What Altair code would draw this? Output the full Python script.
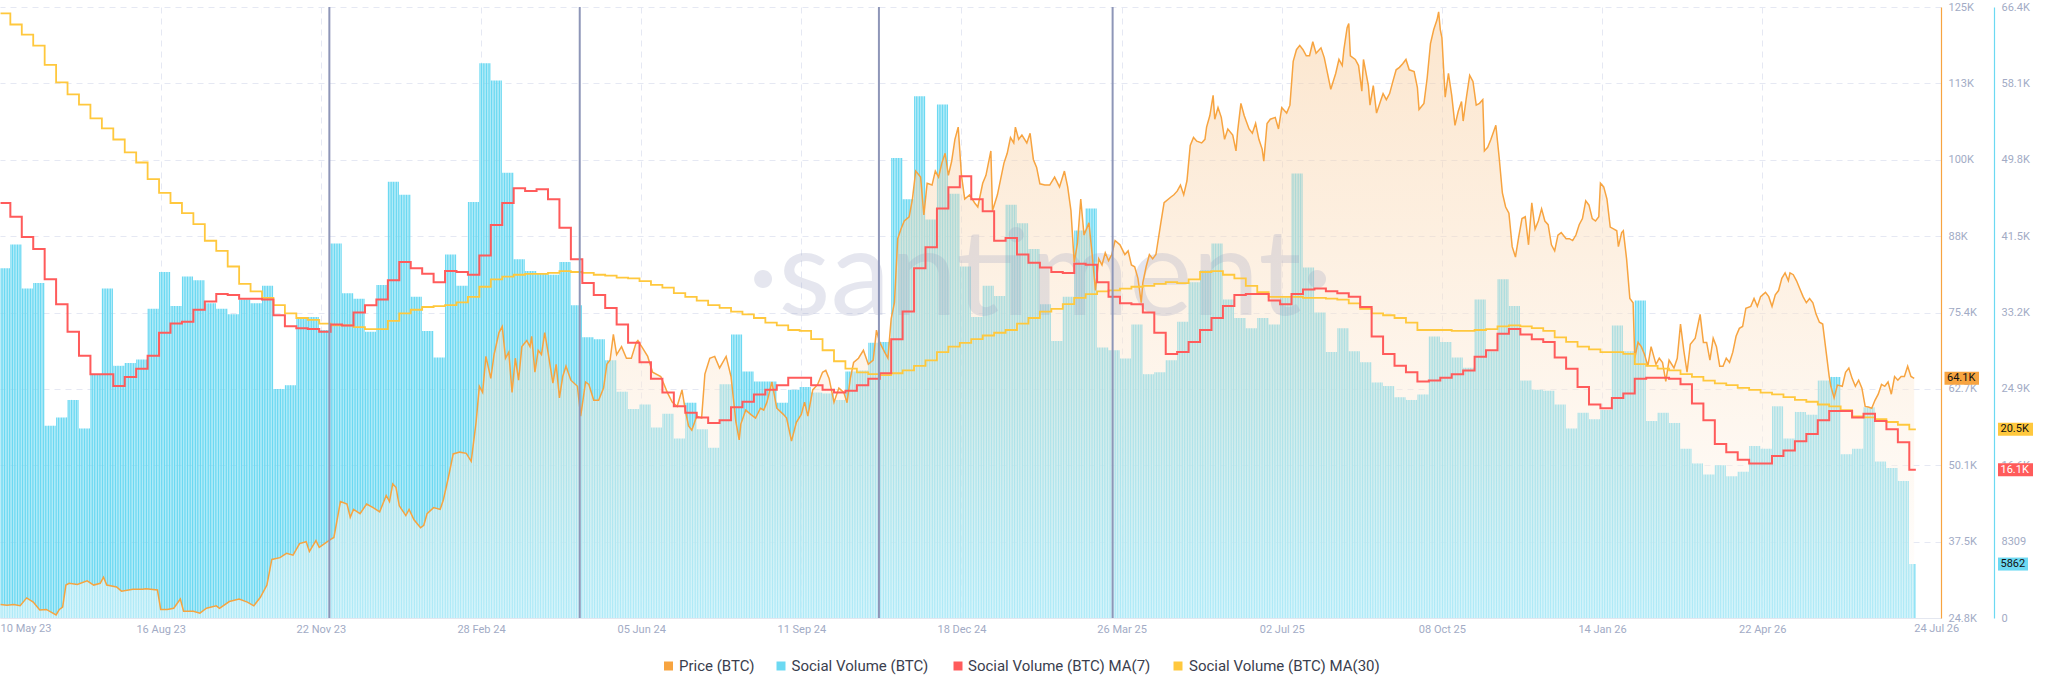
import json
import altair as alt
import pandas as pd

# ---------------------------------------------------------------- data
START = pd.Timestamp("2023-05-10")
N_DAYS = 1172  # 10 May 23 .. 24 Jul 26

# weekly Social Volume (BTC), thousands; week 0 starts 10 May 23, later weeks start 16 May 23 + 7k
vol_k = [38.0, 40.6, 35.8, 36.4, 20.9, 21.8, 23.7, 20.6, 26.4, 35.8,
         27.4, 27.7, 28.1, 33.6, 37.6, 33.9, 37.1, 36.7, 34.2, 33.6,
         33.0, 34.6, 34.2, 36.1, 24.9, 25.3, 32.6, 32.7, 31.3, 40.7,
         35.3, 34.7, 31.1, 36.2, 47.4,
         46.0, 34.9, 31.2, 28.3, 39.5, 36.1, 45.2, 60.3, 58.4, 48.4,
         39.0, 37.7, 37.4, 37.3, 38.7, 34.0, 30.5, 30.3, 28.0, 24.6,
         22.7, 23.2, 20.7, 22.2, 19.5, 23.4, 20.5, 18.5, 25.4, 30.8,
         26.8, 25.7, 25.7, 23.4,
         24.8, 25.1, 24.5, 24.4, 23.7, 26.8, 26.9, 29.9, 30.0, 50.0,
         45.5, 56.7, 43.3, 55.8, 46.1, 38.2, 32.7, 36.1, 35.0, 44.9,
         42.9, 40.1, 34.1, 30.1, 34.9, 42.1, 44.5, 29.4, 29.1, 28.2,
         31.9, 26.5, 26.7, 28.0,
         32.2, 36.5, 37.8, 40.7, 34.6, 32.6, 31.5, 32.6, 31.9, 34.8,
         48.3, 38.1, 33.2, 28.9, 31.5, 29.0, 27.8, 25.6, 25.2, 24.0,
         23.7, 24.3, 30.6, 30.0, 28.3, 27.2, 34.6, 29.0, 36.8, 33.9,
         25.8, 24.8, 24.7, 23.2,
         20.6, 22.3, 21.6, 22.6, 31.8, 29.0, 34.5, 21.4, 22.3, 21.2,
         18.4, 16.8, 15.6, 16.6, 15.4, 15.9, 18.7, 18.4, 23.0, 19.5,
         22.4, 22.1, 25.8, 26.2, 17.8, 18.4, 22.9, 17.0, 16.3, 14.9,
         5.862]

ma7_k = [45.1, 43.6, 41.4, 40.1, 36.8, 34.1, 31.1, 28.5, 26.5, 26.5,
         25.2, 26.2, 27.1, 28.5, 31.0, 32.0, 32.2, 33.5, 34.4, 35.2,
         35.1, 34.7, 34.7, 34.6, 32.9, 31.7, 31.5, 31.4, 31.1, 31.9,
         31.8, 33.2, 34.0, 34.6, 36.7,
         38.7, 38.0, 37.4, 36.5, 37.7, 37.6, 37.3, 39.4, 42.7, 45.1,
         46.7, 46.4, 46.6, 45.5, 42.4, 39.0, 36.4, 35.1, 33.7, 31.9,
         29.9, 27.8, 26.0, 24.5, 23.0, 22.3, 21.8, 21.2, 21.5, 22.9,
         23.5, 24.3, 24.8, 25.3,
         26.1, 26.1, 25.3, 24.8, 24.5, 24.7, 25.3, 26.0, 26.6, 30.3,
         33.3, 38.0, 40.3, 44.5, 46.8, 48.0, 45.5, 44.2, 41.0, 41.3,
         39.5, 38.6, 38.1, 37.6, 37.5, 38.5, 38.4, 36.5, 34.9, 34.2,
         34.1, 33.2, 31.0, 28.7,
         28.9, 30.0, 31.3, 32.6, 33.9, 35.1, 35.2, 35.2, 34.5, 34.1,
         35.2, 35.7, 35.8, 35.5, 35.3, 34.9, 33.8, 30.6, 28.7, 27.4,
         26.7, 25.7, 25.8, 26.1, 26.5, 26.9, 28.4, 29.1, 30.9, 31.4,
         30.8, 30.3, 30.0, 28.3,
         27.1, 25.1, 23.2, 22.8, 23.9, 24.4, 26.0, 26.1, 26.1, 26.0,
         25.4, 23.3, 21.5, 18.9, 18.0, 17.2, 16.8, 16.8, 17.6, 18.2,
         19.2, 20.0, 21.5, 22.5, 22.5, 21.8, 22.2, 21.4, 20.5, 19.1,
         16.1]

ma30_k = [65.7, 64.5, 63.4, 62.2, 60.1, 58.2, 56.9, 55.8, 54.3, 53.2,
          52.0, 50.6, 49.5, 47.7, 46.2, 45.1, 44.0, 42.8, 41.0, 39.9,
          38.2, 36.3, 35.5, 34.8, 34.0, 33.1, 32.6, 32.4, 32.0, 31.8,
          31.8, 31.6, 31.4, 31.4, 32.3,
          33.1, 33.5, 33.8, 33.9, 34.0, 34.3, 34.9, 36.0, 36.8, 37.1,
          37.3, 37.4, 37.4, 37.5, 37.7, 37.6, 37.5, 37.3, 37.2, 37.0,
          36.9, 36.6, 36.2, 35.9, 35.3, 34.9, 34.5, 34.0, 33.7, 33.3,
          33.0, 32.6, 32.1, 31.8,
          31.3, 31.2, 30.3, 29.1, 27.9, 27.1, 26.7, 26.5, 26.4, 26.6,
          26.9, 27.4, 28.0, 28.9, 29.5, 29.9, 30.3, 30.7, 31.0, 31.3,
          32.0, 32.6, 33.3, 33.6, 34.1, 34.8, 35.2, 35.5, 35.6, 35.8,
          36.0, 36.1, 36.3, 36.5,
          36.4, 36.8, 37.6, 37.7, 37.3, 36.9, 36.1, 35.4, 34.9, 34.9,
          34.9, 34.8, 34.8, 34.7, 34.6, 34.2, 33.6, 33.1, 32.9, 32.6,
          32.1, 31.3, 31.3, 31.3, 31.2, 31.2, 31.3, 31.4, 31.7, 31.8,
          31.7, 31.5, 31.2, 30.5,
          30.0, 29.5, 29.2, 28.9, 28.9, 28.7, 27.6, 27.4, 27.1, 26.9,
          26.5, 26.2, 25.8, 25.5, 25.3, 25.0, 24.8, 24.5, 24.3, 24.0,
          23.7, 23.5, 23.2, 23.0, 22.6, 21.9, 21.8, 21.6, 21.3, 21.0,
          20.5]

# Price (BTC): day offset from 10 May 23, value in thousands USD
price_day = [0, 4, 8, 12, 16, 20, 24, 28, 32, 34, 36, 38, 40, 42, 47, 53, 57, 61, 63, 65,
             71, 74, 81, 87, 89, 96, 98, 102, 106, 110, 112, 118, 122, 126, 132, 134, 140, 146, 151, 155,
             159, 163, 166, 171, 175, 179, 183, 187, 189, 193, 195, 202, 204, 208, 212, 214, 216, 220, 224, 228,
             232, 236, 238,
             240, 242, 244, 248, 250, 253, 257, 259, 261, 265, 269, 271, 274, 277, 281, 285, 288, 291, 293, 295,
             297, 300, 302, 305, 307, 309, 311, 313, 315, 317, 319, 322, 324, 325, 327, 329, 331, 333, 335, 338,
             340, 342, 344, 346, 349, 353, 355, 358, 360, 363, 366, 369, 371, 373, 375, 377, 380, 383, 386, 389,
             390, 393, 396, 399, 404, 408, 411, 414, 417, 419, 421, 423, 426, 429, 431, 434, 437, 440, 444, 447,
             450, 452, 453, 456, 459, 462, 465, 467, 469, 472, 475, 479,
             481, 484, 487, 490, 492, 494, 497, 500, 503, 505, 507, 510, 513, 516, 518, 520, 522, 525, 528, 531,
             534, 536, 538, 541, 543, 545, 547, 549, 551, 553, 556, 558, 560, 563, 565, 567, 570, 572, 574, 576,
             578, 580, 582, 584, 586, 588, 590, 593, 596, 598, 601, 603, 606, 607, 610, 614, 616, 618, 620, 621,
             623, 625, 628, 630, 632, 634, 636, 639, 642, 645, 648, 651, 653, 655, 657, 659, 661, 663, 666, 668,
             670, 672, 674, 676, 678, 680, 682, 685, 688, 690, 692, 694, 696, 698, 699, 701, 703, 705, 707, 710,
             712, 716, 718, 720, 722,
             724, 726, 728, 730, 732, 735, 737, 738, 740, 742, 743, 745, 747, 749, 751, 754, 756, 757, 759, 761,
             764, 766, 768, 770, 772, 773, 775, 777, 780, 782, 784, 787, 789, 791, 793, 795, 797, 799, 801, 803,
             805, 808, 810, 812, 814, 817, 819, 821, 822, 824, 825, 826, 829, 831, 833, 834, 837, 838, 840, 842,
             844, 846, 848, 850, 852, 854, 856, 858, 860, 862, 865, 867, 868, 871, 873, 875, 877, 879, 880, 881,
             882, 884, 886, 888, 890, 892, 894, 895, 897, 899, 901, 903, 905, 907, 908, 910, 912, 915, 917, 919,
             921, 923, 925, 927, 929, 931, 933, 935, 937, 939, 941, 943, 945, 947, 949, 951, 953, 955, 958, 960,
             962, 964, 966, 968, 970, 972, 974, 976, 978, 979, 981, 983, 985, 987, 989, 990, 992, 993, 995, 997,
             999, 1000, 1002, 1004, 1006, 1008, 1010, 1013, 1015, 1017, 1019, 1021, 1024, 1026, 1028, 1030, 1032, 1034, 1037, 1040,
             1042, 1044, 1046, 1048, 1050, 1052, 1054, 1056, 1058, 1060, 1062, 1064, 1066, 1068, 1071, 1073, 1075, 1077, 1080, 1082,
             1084, 1086, 1088, 1090, 1092, 1094, 1095, 1097, 1099, 1101, 1103, 1105, 1107, 1109, 1111, 1113, 1115, 1117, 1119, 1120,
             1122, 1124, 1127, 1129, 1131, 1133, 1135, 1137, 1139, 1141, 1143, 1145, 1147, 1149, 1151, 1153, 1155, 1157, 1159, 1161,
             1163, 1165, 1167, 1169, 1171]
price_k = [27.0, 26.9, 27.0, 26.8, 28.1, 27.4, 26.1, 26.2, 25.6, 25.3, 26.2, 26.6, 30.2, 30.5, 30.3, 30.9, 30.2, 30.5, 31.5, 30.2,
           29.9, 29.2, 29.5, 29.5, 29.6, 29.4, 26.2, 26.2, 26.4, 27.9, 25.9, 25.9, 25.6, 26.4, 26.8, 26.4, 27.5, 27.9, 27.4, 26.8,
           28.2, 30.2, 34.4, 34.7, 35.4, 35.1, 37.0, 37.3, 35.7, 37.5, 36.4, 37.7, 38.0, 43.9, 43.5, 41.3, 42.6, 41.9, 43.5, 42.9,
           42.2, 44.9, 43.9,
           46.8, 46.2, 43.2, 41.6, 42.6, 40.9, 39.6, 40.0, 41.9, 42.9, 42.6, 44.2, 47.8, 51.7, 52.0, 51.8, 50.5, 56.9, 62.8, 61.8,
           67.7, 64.1, 68.0, 71.6, 72.6, 67.4, 68.4, 61.8, 67.4, 63.8, 69.3, 70.3, 69.3, 71.0, 65.1, 68.7, 68.0, 71.6, 68.4, 63.3,
           66.4, 60.9, 64.4, 66.1, 63.8, 62.8, 57.9, 63.5, 63.1, 60.5, 60.5, 62.5, 66.4, 67.1, 71.3, 68.0, 69.3, 67.4, 67.4, 70.0,
           70.3, 69.0, 67.7, 65.1, 64.4, 61.8, 60.2, 59.5, 62.2, 58.9, 56.3, 55.6, 57.9, 57.6, 64.8, 67.4, 67.7, 65.8, 67.7, 64.4,
           56.9, 54.0, 56.6, 58.9, 58.2, 57.6, 59.2, 58.9, 60.2, 63.5, 59.2, 58.2,
           57.6, 53.8, 56.9, 58.2, 60.2, 57.9, 62.2, 63.1, 65.1, 65.4, 64.1, 60.2, 62.5, 61.8, 60.1, 64.1, 66.7, 67.4, 68.7, 66.4,
           67.1, 72.0, 70.0, 68.4, 67.4, 73.9, 76.5, 87.0, 88.6, 89.9, 90.6, 93.5, 98.1, 97.1, 90.9, 96.1, 95.8, 98.1, 97.1, 99.4,
           101.0, 97.4, 99.7, 103.3, 105.3, 97.4, 93.5, 94.2, 92.9, 92.2, 96.1, 97.4, 101.4, 91.6, 94.2, 99.4, 101.0, 103.6, 102.7, 105.3,
           103.3, 104.0, 102.7, 104.3, 100.0, 98.7, 96.0, 95.8, 95.8, 97.1, 95.5, 98.1, 95.5, 91.6, 83.1, 86.3, 93.5, 87.6, 89.6, 84.4,
           78.5, 83.7, 82.7, 84.7, 83.4, 84.4, 86.7, 86.0, 84.4, 85.0, 82.7, 82.4, 80.5, 76.5, 79.8, 82.4, 84.4, 83.7, 84.4, 89.6,
           92.9, 93.8, 94.2, 94.8, 95.8,
           94.2, 96.5, 102.3, 103.6, 103.0, 102.7, 103.3, 105.3, 107.2, 110.5, 106.6, 108.5, 106.9, 103.3, 105.0, 104.0, 101.4, 104.6, 109.2, 107.2,
           105.0, 104.3, 105.9, 103.3, 101.7, 99.7, 105.9, 106.6, 106.9, 105.0, 108.5, 107.6, 108.9, 116.1, 118.0, 118.7, 118.0, 117.0, 117.0, 119.3,
           117.4, 118.3, 116.7, 114.1, 111.5, 114.1, 116.4, 115.4, 118.0, 121.6, 122.3, 117.0, 116.4, 115.4, 111.2, 116.4, 112.1, 108.9, 112.1, 107.6,
           109.2, 110.8, 109.8, 110.8, 112.8, 114.7, 115.1, 115.7, 116.4, 114.7, 114.4, 111.8, 108.2, 109.2, 113.4, 119.0, 121.3, 122.9, 124.2, 121.3,
           120.0, 110.2, 114.1, 110.5, 105.6, 107.9, 109.5, 106.3, 110.2, 113.8, 112.8, 108.9, 109.2, 109.8, 101.4, 102.0, 103.3, 105.6, 100.4, 94.5,
           92.2, 91.2, 85.7, 84.0, 87.3, 90.3, 90.6, 86.0, 92.9, 88.6, 89.9, 91.9, 89.9, 89.3, 86.0, 85.0, 87.6, 88.0, 87.0, 87.0,
           86.7, 87.6, 89.3, 90.3, 93.2, 92.5, 90.3, 89.9, 90.6, 96.1, 95.5, 93.5, 88.9, 88.6, 88.3, 85.7, 88.0, 88.3, 83.7, 77.2,
           76.5, 67.4, 70.0, 69.3, 68.0, 66.1, 69.3, 66.4, 67.4, 66.7, 63.6, 67.1, 65.8, 67.4, 73.0, 68.7, 65.1, 69.7, 70.7, 74.6,
           70.0, 70.0, 67.1, 70.7, 69.3, 66.1, 66.1, 67.4, 66.7, 68.4, 71.0, 72.3, 72.6, 75.6, 75.9, 77.2, 75.9, 77.5, 78.2, 77.5,
           75.9, 77.8, 78.5, 80.5, 81.4, 80.1, 81.4, 81.1, 80.1, 78.8, 77.5, 76.5, 77.2, 76.5, 74.6, 73.3, 73.0, 68.7, 64.4, 62.8,
           60.9, 63.0, 62.8, 65.1, 65.8, 64.1, 62.8, 63.8, 62.5, 59.5, 59.4, 59.2, 60.5, 61.5, 63.1, 62.8, 63.5, 61.5, 64.4, 63.8,
           64.4, 64.4, 66.1, 64.4, 64.1]

# event markers (vertical lines)
event_dates = ["2023-11-27T05:00:00", "2024-04-28T10:00:00", "2024-10-28T12:00:00", "2025-03-20T12:00:00"]

# axis tick labels
x_tick_dates = ["2023-08-16", "2023-11-22", "2024-02-28", "2024-06-05", "2024-09-11", "2024-12-18",
                "2025-03-26", "2025-07-02", "2025-10-08", "2026-01-14", "2026-04-22"]
x_end_labels = ["2023-05-10", "2026-07-24"]
price_tick_labels = ["24.8K", "37.5K", "50.1K", "62.7K", "75.4K", "88K", "100K", "113K", "125K"]
vol_tick_labels = ["0", "8309", "16.6K", "24.9K", "33.2K", "41.5K", "49.8K", "58.1K", "66.4K"]
legend_names = ["Price (BTC)", "Social Volume (BTC)", "Social Volume (BTC) MA(7)", "Social Volume (BTC) MA(30)"]

assert len(vol_k) == 168 and len(ma7_k) == 168 and len(ma30_k) == 168
assert len(price_day) == len(price_k)

# ---------------------------------------------------------------- styles
W, H = 1941, 611
C_PRICE = "#f7a440"
C_VOL = "#6cd9f2"
C_MA7 = "#ff5b5b"
C_MA30 = "#ffc83d"
C_GRID = "#e5e8f3"
C_LABEL = "#a2abc5"
C_EVENT = "#8e96b8"
FONT = "Roboto"

P_MIN, P_MAX = 24800, 125000
V_MAX = 66400

# ---------------------------------------------------------------- tables
day_rows = []
for d in range(N_DAYS):
    w = 0 if d < 6 else 1 + (d - 6) // 7
    day_rows.append({"date": START + pd.Timedelta(days=d), "vol": vol_k[w] * 1000})
bars_df = pd.DataFrame(day_rows)
bars_df["end"] = bars_df["date"] + pd.Timedelta(hours=18.5)

week_starts = [0] + [6 + 7 * (k - 1) for k in range(1, len(vol_k))] + [N_DAYS]
ma_df = pd.DataFrame({
    "date": [START + pd.Timedelta(days=s) for s in week_starts],
    "ma7": [v * 1000 for v in ma7_k] + [ma7_k[-1] * 1000],
    "ma30": [v * 1000 for v in ma30_k] + [ma30_k[-1] * 1000],
})

price_df = pd.DataFrame({
    "date": [START + pd.Timedelta(days=d) for d in price_day],
    "price": [v * 1000 for v in price_k],
})

events_df = pd.DataFrame({"date": pd.to_datetime(event_dates)})
ends_df = pd.DataFrame({"date": pd.to_datetime(x_end_labels), "dx": [5, 0]})


def dt(ts):
    ts = pd.Timestamp(ts)
    return alt.DateTime(year=ts.year, month=ts.month, date=ts.day, hours=ts.hour, minutes=ts.minute)


x_scale = alt.Scale(domain=[dt(START - pd.Timedelta(days=0.33)), dt(START + pd.Timedelta(days=1187.4))])
x_axis = alt.Axis(values=[dt(s) for s in x_tick_dates], format="%d %b %y", labelFlush=False,
                  labelOverlap=False, grid=True, gridColor=C_GRID, gridDash=[6, 5], ticks=False,
                  domainColor="#e4e7f0", labelColor=C_LABEL, labelFontSize=11, labelFont=FONT,
                  labelPadding=5, title=None)


def X(field="date"):
    return alt.X(f"{field}:T", scale=x_scale, axis=x_axis)


price_scale = alt.Scale(domain=[P_MIN, P_MAX], nice=False, zero=False)
vol_scale = alt.Scale(domain=[0, V_MAX], nice=False, zero=False)

price_label_expr = json.dumps(price_tick_labels).replace('"', "'") + \
    f"[round((datum.value - {P_MIN}) / {(P_MAX - P_MIN) / 8})]"
vol_label_expr = json.dumps(vol_tick_labels).replace('"', "'") + \
    f"[round(datum.value / {V_MAX / 8})]"

price_axis = alt.Axis(orient="right", values=[P_MIN + (P_MAX - P_MIN) / 8 * i for i in range(9)],
                      labelExpr=price_label_expr, grid=True, gridColor=C_GRID, gridDash=[6, 5],
                      ticks=False, domainColor=C_PRICE, domainWidth=1.2, labelColor=C_LABEL,
                      labelFontSize=11, labelFont=FONT, labelPadding=7, labelFlush=False, title=None)
vol_axis = alt.Axis(orient="right", offset=53, values=[V_MAX / 8 * i for i in range(9)],
                    labelExpr=vol_label_expr, grid=False, ticks=False, domainColor=C_VOL,
                    domainWidth=1.2, labelColor=C_LABEL, labelFontSize=11, labelFont=FONT,
                    labelPadding=7, labelFlush=False, title=None)

# ---------------------------------------------------------------- layers
bars = alt.Chart(bars_df).mark_rect(color=C_VOL).encode(
    x=X("date"), x2="end:T",
    y=alt.Y("vol:Q", scale=vol_scale, axis=vol_axis),
    y2=alt.datum(0),
)

gradient = alt.Gradient(
    gradient="linear",
    stops=[alt.GradientStop(color="#f8c995", offset=0),
           alt.GradientStop(color="#ffffff", offset=1)],
    x1=1, x2=1, y1=0, y2=1,
)
price_area = alt.Chart(price_df).mark_area(color=gradient, opacity=0.46).encode(
    x=X("date"),
    y=alt.Y("price:Q", scale=price_scale, axis=price_axis),
    y2=alt.datum(P_MIN),
)

price_line = alt.Chart(price_df).mark_line(color=C_PRICE, strokeWidth=1.5).encode(
    x=X("date"),
    y=alt.Y("price:Q", scale=price_scale, axis=None),
)

watermark = alt.Chart(pd.DataFrame({"t": ["·santiment·"]})).mark_text(
    fontSize=120, font="Lato", color="#9aa0c0", opacity=0.25, align="center", baseline="middle"
).encode(x=alt.value(1040), y=alt.value(272), text="t:N")

ma30_line = alt.Chart(ma_df).mark_line(color=C_MA30, strokeWidth=1.8, interpolate="step-after").encode(
    x=X("date"),
    y=alt.Y("ma30:Q", scale=vol_scale, axis=None),
)
ma7_line = alt.Chart(ma_df).mark_line(color=C_MA7, strokeWidth=2, interpolate="step-after").encode(
    x=X("date"),
    y=alt.Y("ma7:Q", scale=vol_scale, axis=None),
)

event_rules = alt.Chart(events_df).mark_rule(color=C_EVENT, strokeWidth=2).encode(x=X("date"))

end_labels = alt.Chart(ends_df).mark_text(
    align="left", baseline="top", fontSize=11, font=FONT, color=C_LABEL
).encode(
    x=X("date"), y=alt.value(H + 5),
    text=alt.Text("date:T", format="%d %b %y"),
    xOffset=alt.XOffset("dx:Q", scale=None),
)


def badge(value, label, fill, text_color, x0, x1, scale):
    df = pd.DataFrame({"v": [value], "t": [label]})
    rect = alt.Chart(df).mark_rect(color=fill, yOffset=-6.5, y2Offset=6.5).encode(
        x=alt.value(x0), x2=alt.value(x1),
        y=alt.Y("v:Q", scale=scale, axis=None), y2="v:Q",
    )
    txt = alt.Chart(df).mark_text(align="left", baseline="middle", fontSize=11, font=FONT,
                                  color=text_color).encode(
        x=alt.value(x0 + 2.5), y=alt.Y("v:Q", scale=scale, axis=None), text="t:N",
    )
    return [rect, txt]


def kfmt(v):
    return f"{v:.1f}K"


badges = []
badges += badge(price_k[-1] * 1000, kfmt(price_k[-1]), C_PRICE, "#111111", 1944.5, 1979, price_scale)
badges += badge(ma30_k[-1] * 1000, kfmt(ma30_k[-1]), C_MA30, "#111111", 1998, 2033, vol_scale)
badges += badge(ma7_k[-1] * 1000, kfmt(ma7_k[-1]), C_MA7, "#ffffff", 1998, 2033, vol_scale)
badges += badge(vol_k[-1] * 1000, str(int(round(vol_k[-1] * 1000))), C_VOL, "#111111", 1998, 2028, vol_scale)

legend_layers = []
legend_sq_x = [668.5, 781, 958, 1178]
legend_tx_x = [679, 791.5, 968, 1189]
legend_colors = [C_PRICE, C_VOL, C_MA7, C_MA30]
LEG_Y = 659
for name, col, sx, tx in zip(legend_names, legend_colors, legend_sq_x, legend_tx_x):
    df = pd.DataFrame({"t": [name]})
    legend_layers.append(alt.Chart(df).mark_square(color=col, size=81, opacity=1).encode(
        x=alt.value(sx), y=alt.value(LEG_Y)))
    legend_layers.append(alt.Chart(df).mark_text(
        align="left", baseline="middle", fontSize=15, font=FONT, color="#3a3e4e").encode(
        x=alt.value(tx), y=alt.value(LEG_Y), text="t:N"))

chart = alt.layer(
    bars, price_area, watermark, price_line, ma30_line, ma7_line, event_rules, end_labels,
    *badges, *legend_layers,
).resolve_scale(y="independent").properties(
    width=W, height=H,
    padding={"left": 0, "top": 7, "right": 2048 - W, "bottom": 693 - 7 - H},
    autosize=alt.AutoSizeParams(type="none"),
    background="white",
).configure_view(stroke=None)

chart.save("out.html", embed_options={"renderer": "svg", "actions": False})
